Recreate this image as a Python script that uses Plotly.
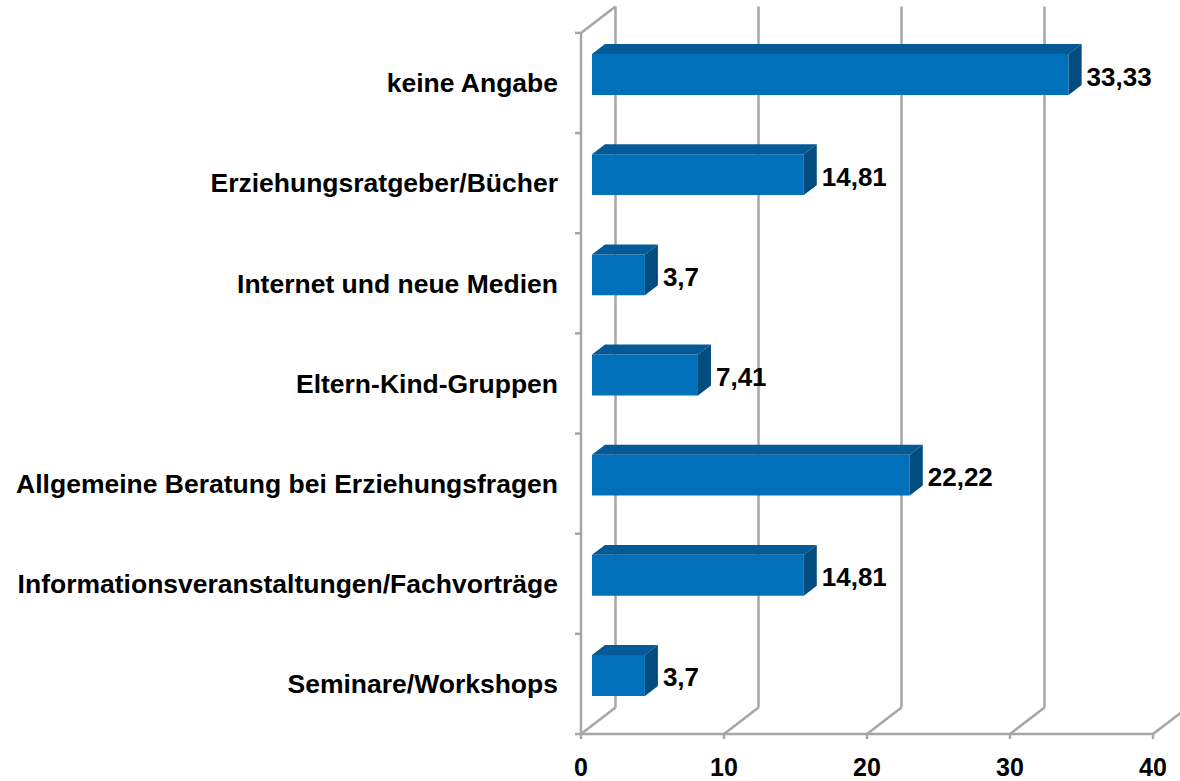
import plotly.graph_objects as go

# Survey answers (percent), listed bottom to top
categories = [
    "Seminare/Workshops",
    "Informationsveranstaltungen/Fachvorträge",
    "Allgemeine Beratung bei Erziehungsfragen",
    "Eltern-Kind-Gruppen",
    "Internet und neue Medien",
    "Erziehungsratgeber/Bücher",
    "keine Angabe",
]
values = [3.7, 14.81, 22.22, 7.41, 3.7, 14.81, 33.33]
x_ticks = [0, 10, 20, 30, 40]

# ---- page geometry -------------------------------------------------------
W, H = 1180, 781
PX_X = 14.3        # pixels per percent on the front plane
PX_Y = 100.43      # pixels per category band
X0_PX = 581        # pixel column of 0 %
Y0_PX = 736        # pixel row of the floor (front edge)
M_L, M_B = 566, 33

x_range = [(M_L - X0_PX) / PX_X, (W - X0_PX) / PX_X]
y_range = [(Y0_PX - (H - M_B)) / PX_Y, Y0_PX / PX_Y]

# depth of the chart box and of the bars (pseudo 3D)
WALL_DX, WALL_DY = 34.5 / PX_X, 26.5 / PX_Y
BAR_OX, BAR_OY = 11 / PX_X, 8.5 / PX_Y
BAR_DX, BAR_DY = 13 / PX_X, 10 / PX_Y
BAR_H = 20.5 / PX_Y

GRID = "#A6A6A6"
FRONT = "#0070BA"
TOP = "#045A96"
SIDE = "#034C80"
FONT = "Liberation Sans, Arial, sans-serif"

n = len(categories)
shapes = []


def seg(x0, y0, x1, y1):
    shapes.append(dict(type="line", xref="x", yref="y", x0=x0, y0=y0, x1=x1, y1=y1,
                       line=dict(color=GRID, width=2.5), layer="below"))


# back wall gridlines and floor diagonals
for t in x_ticks:
    seg(t + WALL_DX, WALL_DY, t + WALL_DX, n + WALL_DY)
    seg(t, 0, t + WALL_DX, WALL_DY)
    seg(t, 0, t, -5 / PX_Y)
# left wall edges
seg(0, 0, 0, n)
seg(0, n, WALL_DX, n + WALL_DY)
# floor front edge
seg(0, 0, x_ticks[-1], 0)
# category boundary ticks
for k in range(n + 1):
    seg(-6 / PX_X, k, 0, k)

centers = [i + 0.5 + BAR_OY for i in range(n)]

fig = go.Figure()

# front faces
fig.add_trace(go.Bar(
    orientation="h", y=centers, x=values, base=BAR_OX, width=2 * BAR_H,
    marker=dict(color=FRONT, line=dict(width=0)), hoverinfo="skip", showlegend=False,
))

# top and side faces
top_x, top_y, side_x, side_y = [], [], [], []
for c, v in zip(centers, values):
    x0, x1 = BAR_OX, BAR_OX + v
    top_x += [x0, x1, x1 + BAR_DX, x0 + BAR_DX, x0, None]
    top_y += [c + BAR_H, c + BAR_H, c + BAR_H + BAR_DY, c + BAR_H + BAR_DY, c + BAR_H, None]
    side_x += [x1, x1 + BAR_DX, x1 + BAR_DX, x1, x1, None]
    side_y += [c - BAR_H, c - BAR_H + BAR_DY, c + BAR_H + BAR_DY, c + BAR_H, c - BAR_H, None]

fig.add_trace(go.Scatter(x=top_x, y=top_y, mode="lines", fill="toself", fillcolor=TOP,
                         line=dict(width=0, color=TOP), hoverinfo="skip", showlegend=False))
fig.add_trace(go.Scatter(x=side_x, y=side_y, mode="lines", fill="toself", fillcolor=SIDE,
                         line=dict(width=0, color=SIDE), hoverinfo="skip", showlegend=False))

# value labels
labels = [f"{v:.2f}".rstrip("0").rstrip(".").replace(".", ",") for v in values]
fig.add_trace(go.Scatter(
    x=[BAR_OX + v + BAR_DX + 5 / PX_X for v in values],
    y=[c - 0.045 for c in centers],
    mode="text", text=labels, textposition="middle right",
    textfont=dict(family=FONT, size=26, color="black", weight="bold"),
    cliponaxis=False, hoverinfo="skip", showlegend=False,
))

fig.update_layout(
    width=W, height=H,
    margin=dict(l=M_L, r=0, t=0, b=M_B, pad=0),
    paper_bgcolor="white", plot_bgcolor="white",
    shapes=shapes, showlegend=False,
    xaxis=dict(range=x_range, tickvals=x_ticks, ticktext=[str(t) for t in x_ticks],
               ticks="", showgrid=False, zeroline=False, showline=False,
               tickfont=dict(family=FONT, size=25, color="black", weight="bold"),
               ticklabelstandoff=4, fixedrange=True),
    yaxis=dict(range=y_range, tickvals=[i + 0.5 for i in range(n)], ticktext=categories,
               ticks="", showgrid=False, zeroline=False, showline=False,
               tickfont=dict(family=FONT, size=26.5, color="black", weight="bold"),
               ticklabelstandoff=7, fixedrange=True),
)

fig.write_html("out.html")
